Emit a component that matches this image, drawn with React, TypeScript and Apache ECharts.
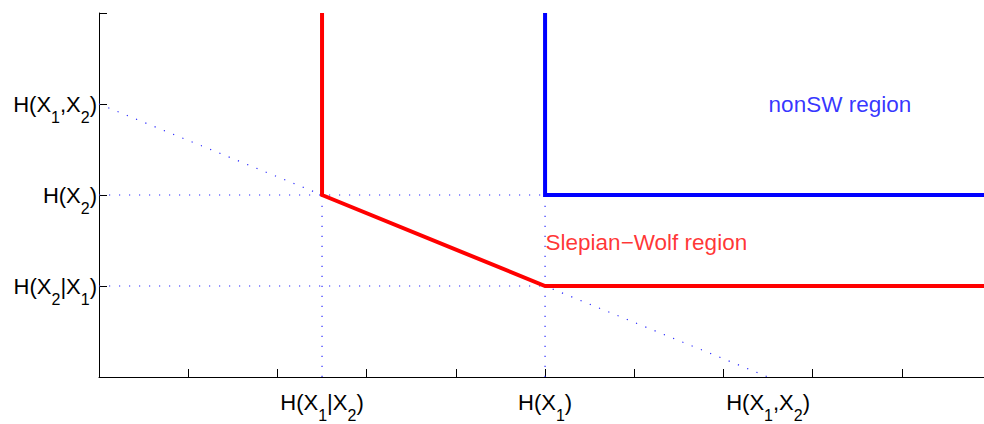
import React, { useEffect, useRef } from "react";
import * as echarts from "echarts";

// Entropy quantities (bits)
const H_X1_given_X2 = 2.5;
const H_X2_given_X1 = 2.5;
const H_X1 = 5;
const H_X2 = 5;
const H_X1X2 = 7.5;
const AXIS_MAX = 10;
// visible part of the rate axis (the plot runs off the right edge)
const X_VIEW_MAX = 9.92;

// Tick positions
const xTicks = [0, 1, 2, 3, 4, 5, 6, 7, 8, 9];
const yTicks = [0, 2.5, 5, 7.5, 10];
const xLabelValues = [H_X1_given_X2, H_X1, H_X1X2];
const xLabelTexts = [
  "{m|H(X}{s|1}{m||X}{s|2}{m|)}",
  "{m|H(X}{s|1}{m|)}",
  "{m|H(X}{s|1}{m|,X}{s|2}{m|)}",
];
const yLabelValues = [H_X2_given_X1, H_X2, H_X1X2];
const yLabelTexts = [
  "{m|H(X}{s|2}{m||X}{s|1}{m|)}",
  "{m|H(X}{s|2}{m|)}",
  "{m|H(X}{s|1}{m|,X}{s|2}{m|)}",
];

// Rate region boundaries
const slepianWolfBoundary = [
  [H_X1_given_X2, AXIS_MAX],
  [H_X1_given_X2, H_X2],
  [H_X1, H_X2_given_X1],
  [AXIS_MAX, H_X2_given_X1],
];
const nonSWBoundary = [
  [H_X1, AXIS_MAX],
  [H_X1, H_X2],
  [AXIS_MAX, H_X2],
];

// Dotted guide lines
const guides = [
  [[0, H_X1X2], [H_X1X2, 0]],
  [[0, H_X2], [H_X1, H_X2]],
  [[0, H_X2_given_X1], [H_X1, H_X2_given_X1]],
  [[H_X1_given_X2, 0], [H_X1_given_X2, H_X2]],
  [[H_X1, 0], [H_X1, H_X2]],
];

// Region annotations
const annotationNames = ["nonSW region", "Slepian\u2212Wolf region"];
const annotationPoints = [[7.5, 7.5], [5, 3.7]];
const annotationColors = ["#0000ff", "#ff0000"];

const FONT = "'Liberation Sans', Arial, Helvetica, sans-serif";

const richLabel = {
  m: { fontSize: 22, fontFamily: FONT, color: "#000", lineHeight: 43 },
  s: { fontSize: 16, fontFamily: FONT, color: "#000", lineHeight: 17, padding: [26, 0, 0, 0] },
};

export default function App() {
  const ref = useRef<HTMLDivElement>(null);

  useEffect(() => {
    if (!ref.current) return;
    const chart = echarts.init(ref.current, null, { renderer: "svg" });

    const guideSeries = guides.map((g) => ({
      type: "line",
      data: g,
      symbol: "none",
      silent: true,
      z: 1,
      lineStyle: { color: "#2b2bff", width: 1.2, type: [1.2, 8.8] },
    }));

    const annotationSeries = annotationNames.map((name, i) => ({
      type: "scatter",
      data: [annotationPoints[i]],
      symbolSize: 1,
      itemStyle: { color: "rgba(0,0,0,0)" },
      silent: true,
      z: 5,
      label: {
        show: true,
        position: "right",
        distance: 0,
        formatter: name,
        color: annotationColors[i],
        fontSize: 22.5,
        fontFamily: FONT,
      },
    }));

    chart.setOption({
      animation: false,
      backgroundColor: "#fff",
      grid: { left: 99, top: 13, right: 0, bottom: 47 },
      xAxis: {
        type: "value",
        min: 0,
        max: X_VIEW_MAX,
        interval: 1,
        splitLine: { show: false },
        axisLine: { show: true, lineStyle: { color: "#000", width: 1 } },
        axisTick: { show: true, inside: true, length: 8, customValues: xTicks, lineStyle: { color: "#000" } },
        axisLabel: {
          customValues: xLabelValues,
          margin: 4,
          formatter: (v: number) => xLabelTexts[xLabelValues.indexOf(v)] ?? "",
          rich: richLabel,
        },
      },
      yAxis: {
        type: "value",
        min: 0,
        max: AXIS_MAX,
        splitLine: { show: false },
        axisLine: { show: true, onZero: false, lineStyle: { color: "#000", width: 1 } },
        axisTick: { show: true, inside: true, length: 8, customValues: yTicks, lineStyle: { color: "#000" } },
        axisLabel: {
          customValues: yLabelValues,
          margin: 2,
          formatter: (v: number) => yLabelTexts[yLabelValues.indexOf(v)] ?? "",
          rich: richLabel,
        },
      },
      series: [
        ...guideSeries,
        {
          type: "line",
          data: slepianWolfBoundary,
          symbol: "none",
          silent: true,
          z: 3,
          lineStyle: { color: "#ff0000", width: 4, join: "miter" },
        },
        {
          type: "line",
          data: nonSWBoundary,
          symbol: "none",
          silent: true,
          z: 3,
          lineStyle: { color: "#0000ff", width: 4, join: "miter" },
        },
        ...annotationSeries,
      ],
    });

    return () => chart.dispose();
  }, []);

  return (
    <div
      ref={ref}
      style={{ position: "absolute", left: 0, top: 0, width: 984, height: 424 }}
    />
  );
}
